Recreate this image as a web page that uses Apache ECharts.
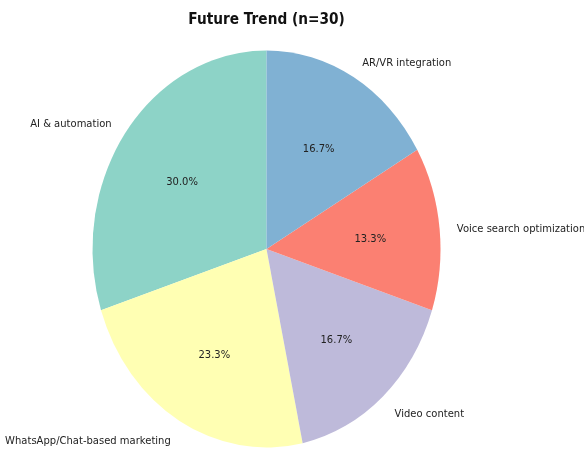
<!DOCTYPE html>
<html>
<head>
<meta charset="utf-8">
<script src="https://cdn.jsdelivr.net/npm/echarts@6/dist/echarts.min.js"></script>
<style>
  html, body { margin: 0; padding: 0; background: #fff; }
  #chart { width: 584px; height: 450px; }
</style>
</head>
<body>
<div id="chart"></div>
<script>
// data, in the order drawn counterclockwise from 12 o'clock
const categories = ["AI & automation", "WhatsApp/Chat-based marketing", "Video content", "Voice search optimization", "AR/VR integration"];
const counts = [9, 7, 5, 4, 5];
const colors = ["#8dd3c7", "#ffffb3", "#bebada", "#fb8072", "#80b1d3"];
const total = counts.reduce((a, b) => a + b, 0);

// the source pie is stretched into an ellipse
const cx = 266.5, cy = 249, rx = 174, ry = 198.5;
const font = "DejaVu Sans";
const stretch = 1.12;
const textDrop = 3;

function renderSlice(params, api) {
  const i = params.dataIndex;
  const v = api.value(0);
  let before = 0;
  for (let k = 0; k < i; k++) before += counts[k];
  // screen angles: start at 12 o'clock, go counterclockwise
  const a0 = -Math.PI / 2 - 2 * Math.PI * before / total;
  const a1 = a0 - 2 * Math.PI * v / total;
  const mid = (a0 + a1) / 2;
  const c = Math.cos(mid), s = Math.sin(mid);
  const pct = (v / total * 100).toFixed(1) + "%";
  return {
    type: "group",
    children: [
      {
        type: "sector",
        shape: { cx: 0, cy: 0, r0: 0, r: rx, startAngle: a1, endAngle: a0, clockwise: true },
        x: cx, y: cy, scaleY: ry / rx,
        style: { fill: colors[i] }
      },
      {
        type: "text",
        x: cx + 1.1 * rx * c, y: cy + 1.1 * ry * s + textDrop, scaleY: stretch,
        style: {
          text: categories[i], x: 0, y: 0,
          align: c >= 0 ? "left" : "right", verticalAlign: "middle",
          font: "10px '" + font + "'", fill: "#222"
        }
      },
      {
        type: "text",
        x: cx + 0.6 * rx * c, y: cy + 0.6 * ry * s + textDrop, scaleY: stretch,
        style: {
          text: pct, x: 0, y: 0,
          align: "center", verticalAlign: "middle",
          font: "10px '" + font + "'", fill: "#222"
        }
      }
    ]
  };
}

const chart = echarts.init(document.getElementById("chart"));
chart.setOption({
  animation: false,
  graphic: [
    {
      type: "text",
      x: cx, y: 20, scaleY: stretch,
      style: {
        text: "Future Trend (n=" + total + ")", x: 0, y: 0,
        align: "center", verticalAlign: "middle",
        font: "bold 13.7px '" + font + "'", fill: "#111"
      }
    }
  ],
  series: [
    {
      type: "custom",
      coordinateSystem: "none",
      silent: true,
      renderItem: renderSlice,
      data: categories.map((c, i) => ({ name: c, value: [counts[i]] }))
    }
  ]
});
</script>
</body>
</html>
